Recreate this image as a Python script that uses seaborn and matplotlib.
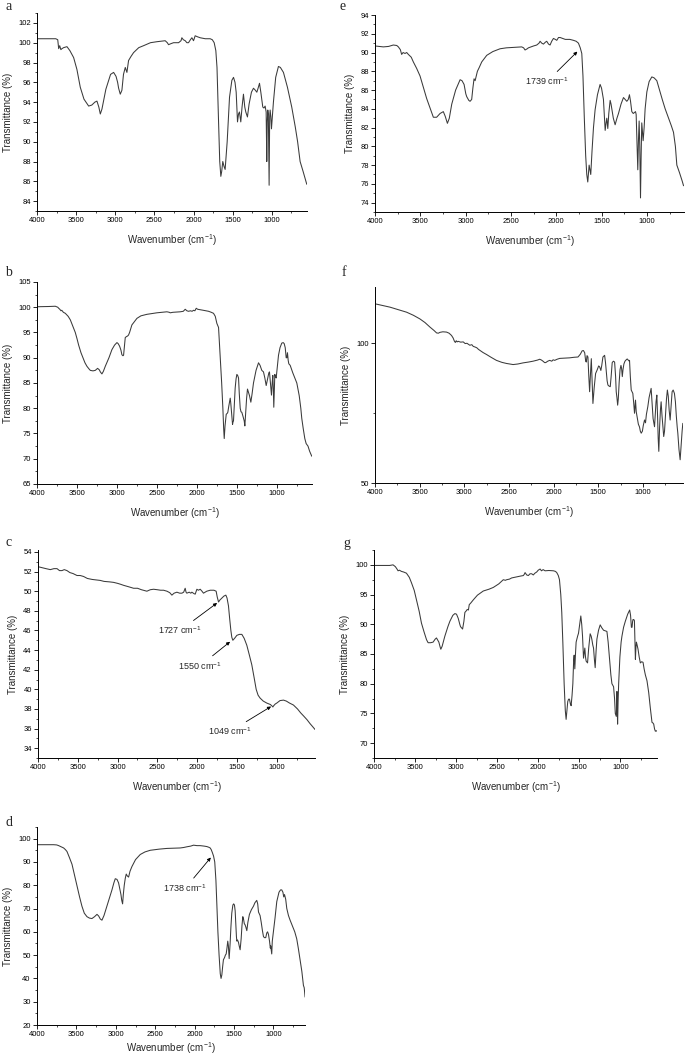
import matplotlib
matplotlib.use("Agg")
import matplotlib.pyplot as plt
from matplotlib.ticker import MultipleLocator
import seaborn as sns
import pandas as pd

# ---------------- data (wavenumber cm-1, transmittance %) ----------------
a_spectrum = [(4000,100.4),(3850,100.4),(3760,100.4),(3735,100.3),(3723,99.4),(3710,99.7),(3695,99.3),(3681,99.4),
 (3660,99.5),(3617,99.6),(3580,99.2),(3532,98.5),(3490,97.3),(3447,95.5),(3400,94.3),(3340,93.6),(3300,93.7),
 (3260,94.0),(3234,94.1),(3210,93.5),(3191,92.8),(3170,93.3),(3120,95.3),(3060,96.8),(3021,97.0),(2990,96.6),
 (2970,96.0),(2957,95.4),(2936,94.8),(2915,95.2),(2895,96.8),(2872,97.5),(2851,97.0),(2830,98.2),(2800,98.6),
 (2766,99.0),(2700,99.5),(2638,99.7),(2550,100.0),(2468,100.1),(2362,100.2),(2335,100.0),(2319,99.8),(2290,99.9),
 (2255,100.0),(2191,100.0),(2160,100.2),(2149,100.5),(2130,100.3),(2106,100.2),(2085,100.0),(2064,100.0),
 (2040,100.3),(2021,100.5),(2000,100.2),(1979,100.7),(1950,100.6),(1915,100.5),(1850,100.4),(1787,100.4),
 (1760,100.3),(1736,100.0),(1715,99.2),(1700,97.5),(1680,92.0),(1665,88.0),(1651,86.5),(1640,87.0),(1626,88.0),
 (1610,87.5),(1596,87.2),(1570,90.0),(1540,94.5),(1510,96.2),(1489,96.5),(1470,96.0),(1455,95.0),(1438,92.0),
 (1425,92.8),(1413,93.0),(1396,92.0),(1380,93.5),(1362,94.8),(1345,93.5),(1332,93.0),(1311,92.5),(1290,93.8),
 (1260,95.0),(1234,95.4),(1210,95.2),(1191,95.0),(1175,95.4),(1157,95.9),(1140,95.0),(1115,93.5),(1100,93.4),
 (1085,93.6),(1072,93.0),(1064,88.0),(1058,92.0),(1051,93.2),(1044,92.8),(1034,85.6),(1027,92.5),(1021,93.2),
 (1012,92.5),(1004,91.3),(995,92.3),(979,94.0),(950,96.5),(915,97.6),(890,97.5),(851,97.0),(800,95.5),
 (745,93.5),(700,91.5),(670,90.0),(638,88.0),(600,87.0),(553,85.7)]

b_spectrum = [(4000,100.1),(3850,100.15),(3771,100.2),(3740,100.0),(3729,99.8),(3715,99.6),(3700,99.3),(3690,99.4),
 (3670,99.0),(3646,98.8),(3610,98.2),(3583,97.5),(3550,96.2),(3521,95.0),(3500,93.8),(3479,92.5),(3450,91.0),
 (3425,90.0),(3400,89.0),(3375,88.3),(3350,87.8),(3333,87.5),(3300,87.4),(3271,87.5),(3242,87.9),(3220,87.6),
 (3208,87.2),(3188,86.8),(3170,87.3),(3146,88.3),(3100,90.0),(3063,91.6),(3030,92.5),(3000,93.0),(2985,92.8),
 (2967,92.3),(2950,91.5),(2938,90.6),(2925,90.4),(2917,90.5),(2905,92.5),(2896,94.0),(2880,94.2),(2867,94.3),
 (2855,94.5),(2842,95.0),(2813,96.5),(2780,97.2),(2750,97.8),(2700,98.3),(2625,98.6),(2500,98.9),(2375,99.1),
 (2345,99.0),(2333,98.9),(2300,99.0),(2250,99.05),(2208,99.1),(2170,99.2),(2146,99.6),(2125,99.3),(2104,99.2),
 (2080,99.3),(2060,99.2),(2042,99.4),(2025,99.3),(2008,99.8),(1990,99.6),(1958,99.5),(1920,99.4),(1854,99.2),
 (1820,99.0),(1792,98.8),(1770,98.2),(1750,96.8),(1729,96.0),(1718,93.0),(1708,90.0),(1690,85.0),(1675,80.0),
 (1665,76.0),(1658,74.0),(1648,76.5),(1633,78.8),(1620,79.0),(1613,79.2),(1600,80.5),(1583,82.0),(1576,81.0),
 (1571,80.0),(1562,78.0),(1554,76.8),(1548,77.3),(1542,77.5),(1530,81.0),(1521,84.0),(1510,85.8),(1500,86.7),
 (1490,86.5),(1479,86.0),(1470,83.0),(1458,80.0),(1448,79.3),(1438,79.2),(1425,78.5),(1408,77.5),(1400,76.5),
 (1390,79.0),(1378,82.0),(1367,83.8),(1355,83.2),(1342,82.5),(1333,81.8),(1325,81.2),(1310,82.8),(1292,85.0),
 (1260,87.5),(1229,89.0),(1210,88.5),(1188,87.5),(1167,87.2),(1150,86.0),(1133,84.5),(1120,85.5),(1100,87.0),
 (1092,87.2),(1080,85.0),(1067,82.6),(1058,85.0),(1050,86.5),(1044,84.0),(1038,80.2),(1031,84.0),(1025,86.7),
 (1015,86.2),(1008,86.0),(995,88.0),(979,90.5),(960,92.0),(938,92.9),(920,93.0),(908,92.8),(895,92.0),
 (883,90.0),(875,90.0),(867,91.0),(858,89.5),(850,88.8),(833,88.5),(800,87.0),(775,86.0),(750,85.0),
 (720,82.5),(700,80.0),(688,78.0),(670,76.0),(650,74.0),(633,73.0),(610,72.5),(590,71.5),(563,70.5)]

c_spectrum = [(4000,52.5),(3950,52.4),(3900,52.3),(3845,52.2),(3800,52.3),(3761,52.3),(3730,52.1),(3699,52.1),
 (3670,52.2),(3636,52.1),(3600,51.9),(3560,51.8),(3510,51.6),(3470,51.6),(3427,51.5),(3380,51.3),(3320,51.2),
 (3270,51.15),(3218,51.1),(3170,51.0),(3100,50.95),(3050,50.9),(3000,50.8),(2960,50.7),(2925,50.6),(2860,50.45),
 (2799,50.3),(2750,50.3),(2700,50.15),(2632,50.0),(2590,50.15),(2548,50.2),(2500,50.15),(2460,50.1),(2423,50.1),
 (2380,50.0),(2345,49.85),(2318,49.6),(2290,49.8),(2255,49.9),(2220,49.8),(2192,49.8),(2170,49.9),(2151,50.3),
 (2140,49.9),(2130,49.8),(2100,49.9),(2080,49.8),(2067,49.9),(2040,49.75),(2025,49.7),(2004,50.2),(1985,50.1),
 (1962,50.2),(1940,50.0),(1921,49.8),(1880,50.0),(1837,50.1),(1790,50.1),(1762,50.0),(1748,49.4),(1732,48.9),
 (1715,49.1),(1690,49.3),(1665,49.5),(1640,49.6),(1625,49.3),(1607,48.5),(1592,47.2),(1577,46.0),(1565,45.3),
 (1552,45.0),(1530,45.2),(1502,45.5),(1470,45.6),(1439,45.6),(1410,45.2),(1377,44.5),(1345,43.5),(1314,42.5),
 (1285,41.2),(1259,40.0),(1235,39.4),(1209,39.1),(1170,38.8),(1126,38.6),(1080,38.45),(1060,38.3),(1049,38.2),
 (1042,38.3),(1020,38.5),(1000,38.6),(960,38.85),(916,38.9),(880,38.8),(840,38.6),(791,38.4),(740,38.0),
 (700,37.6),(665,37.3),(620,36.9),(582,36.5),(550,36.2),(519,35.9)]

d_spectrum = [(4000,97.4),(3900,97.4),(3789,97.4),(3750,97.3),(3725,97.0),(3700,96.6),(3662,96.0),(3640,95.3),
 (3620,94.5),(3590,92.0),(3556,89.0),(3525,84.5),(3493,80.0),(3460,75.0),(3430,71.0),(3400,68.0),(3366,66.5),
 (3335,65.9),(3303,65.7),(3270,66.5),(3239,67.5),(3218,66.8),(3197,65.5),(3176,65.0),(3150,67.0),(3113,71.0),
 (3080,74.5),(3049,78.0),(3025,81.0),(3007,82.8),(2985,82.5),(2965,81.0),(2950,78.5),(2935,76.0),(2925,73.5),
 (2914,72.0),(2905,76.0),(2893,80.0),(2880,83.0),(2868,84.8),(2855,84.0),(2838,83.5),(2820,86.0),(2796,88.0),
 (2750,91.0),(2690,93.2),(2630,94.3),(2564,95.0),(2450,95.5),(2352,95.8),(2250,95.9),(2183,96.0),(2140,96.2),
 (2099,96.5),(2050,96.8),(2014,97.2),(1970,97.0),(1930,97.0),(1880,96.8),(1845,96.6),(1820,96.3),(1803,96.0),
 (1790,95.3),(1775,94.0),(1760,92.5),(1745,90.0),(1730,82.0),(1718,72.0),(1705,60.0),(1690,50.0),(1675,42.0),
 (1665,40.0),(1655,41.5),(1645,45.0),(1635,48.0),(1620,49.0),(1610,50.0),(1600,50.5),(1590,53.0),(1580,56.0),
 (1572,54.0),(1562,48.5),(1550,55.0),(1540,62.0),(1529,68.0),(1515,71.5),(1505,72.0),(1495,71.5),(1486,69.0),
 (1478,63.0),(1470,58.0),(1465,56.0),(1456,56.5),(1444,55.5),(1435,54.0),(1423,52.3),(1410,57.0),(1400,62.5),
 (1389,66.5),(1380,65.5),(1370,63.5),(1360,63.0),(1350,62.0),(1338,60.5),(1325,64.0),(1305,67.5),(1280,69.5),
 (1254,71.0),(1235,72.5),(1212,73.5),(1200,72.0),(1190,68.5),(1170,67.0),(1155,64.0),(1140,60.5),(1127,58.0),
 (1115,57.5),(1098,57.5),(1085,59.5),(1075,60.0),(1064,59.0),(1050,56.0),(1040,53.0),(1035,54.0),(1028,52.0),
 (1022,50.5),(1015,56.0),(1008,58.0),(1000,60.0),(980,66.0),(958,73.0),(930,77.0),(910,78.0),(895,78.0),
 (880,77.0),(870,75.0),(860,76.0),(845,74.0),(831,70.0),(810,67.0),(789,65.0),(760,62.5),(730,60.0),
 (705,57.0),(685,53.0),(662,48.0),(640,43.0),(630,40.0),(620,37.0),(610,36.0),(599,32.0)]

e_spectrum = [(4000,90.7),(3908,90.6),(3850,90.65),(3798,90.8),(3760,90.75),(3742,90.6),(3720,90.3),(3706,89.8),
 (3690,90.0),(3669,89.9),(3650,90.0),(3632,89.8),(3600,89.5),(3577,89.0),(3540,88.3),(3503,87.5),(3470,86.4),
 (3430,85.1),(3390,84.0),(3356,83.1),(3320,83.1),(3282,83.5),(3246,83.7),(3225,83.2),(3201,82.45),(3180,83.0),
 (3153,84.5),(3110,86.0),(3061,87.1),(3040,87.0),(3017,86.6),(2998,85.6),(2988,85.3),(2965,84.9),(2951,84.8),
 (2933,85.0),(2920,86.2),(2907,87.2),(2895,87.0),(2885,87.4),(2870,88.0),(2850,88.4),(2822,89.0),(2767,89.7),
 (2700,90.1),(2620,90.4),(2550,90.5),(2473,90.55),(2381,90.6),(2360,90.5),(2344,90.27),(2320,90.4),(2307,90.5),
 (2250,90.7),(2215,90.8),(2190,91.0),(2178,91.2),(2160,91.0),(2141,90.9),(2120,91.1),(2105,91.2),(2085,90.9),
 (2068,90.8),(2050,91.2),(2031,91.5),(2010,91.4),(1994,91.3),(1975,91.6),(1957,91.6),(1900,91.4),(1850,91.4),
 (1810,91.3),(1780,91.2),(1755,91.0),(1735,90.5),(1718,89.9),(1705,87.5),(1690,83.0),(1675,79.0),(1663,77.0),
 (1652,76.2),(1645,77.0),(1637,78.0),(1628,77.5),(1619,77.0),(1605,79.5),(1589,82.0),(1571,83.9),(1545,85.5),
 (1516,86.6),(1500,86.2),(1479,85.0),(1468,83.0),(1460,81.7),(1450,82.5),(1442,83.0),(1431,81.9),(1420,83.5),
 (1405,84.9),(1395,84.5),(1387,84.0),(1370,83.0),(1350,82.3),(1330,83.0),(1313,83.5),(1285,84.5),(1258,85.2),
 (1240,85.0),(1221,84.8),(1205,85.0),(1192,85.5),(1180,84.8),(1166,83.7),(1150,83.5),(1137,83.6),(1125,83.7),
 (1118,83.4),(1108,80.0),(1100,77.5),(1093,80.5),(1085,82.7),(1078,80.0),(1070,74.5),(1063,79.0),(1056,82.5),
 (1048,81.5),(1041,80.6),(1030,82.0),(1019,84.0),(1000,85.8),(975,86.9),(945,87.4),(920,87.3),(890,87.0),
 (860,86.0),(830,85.0),(798,84.0),(760,83.0),(730,82.2),(706,81.5),(685,80.0),(669,78.0),(640,77.2),
 (610,76.3),(595,75.8)]

f_spectrum = [(4000,114.0),(3900,113.3),(3832,112.8),(3750,112.0),(3646,111.0),(3570,109.9),(3497,108.6),(3440,107.3),
 (3385,105.7),(3340,104.5),(3310,103.6),(3290,103.5),(3273,103.8),(3240,104.0),(3199,103.9),(3170,103.5),
 (3143,102.7),(3125,101.8),(3110,100.6),(3100,100.2),(3090,100.8),(3080,100.4),(3068,100.6),(3040,100.3),
 (3012,100.4),(2990,99.8),(2970,99.9),(2938,99.2),(2915,99.4),(2900,98.8),(2882,98.6),(2860,98.3),(2840,97.7),
 (2826,97.4),(2790,96.6),(2751,95.9),(2700,94.9),(2640,93.8),(2580,93.1),(2528,92.7),(2453,92.3),(2400,92.5),
 (2341,92.9),(2280,93.2),(2230,93.5),(2180,93.9),(2155,94.2),(2135,93.9),(2118,93.5),(2100,93.0),(2088,93.0),
 (2065,93.5),(2043,93.8),(2020,93.5),(2005,94.0),(1987,93.8),(1960,94.2),(1931,94.5),(1880,94.6),(1820,94.7),
 (1770,94.9),(1726,95.0),(1700,96.0),(1680,97.2),(1665,97.3),(1651,96.5),(1640,93.5),(1633,93.2),(1625,95.5),
 (1615,95.0),(1605,88.0),(1596,82.6),(1588,88.0),(1577,94.4),(1568,86.0),(1559,78.4),(1545,84.0),(1529,89.1),
 (1510,90.5),(1495,91.8),(1484,91.5),(1470,90.2),(1460,92.0),(1447,95.0),(1428,95.6),(1418,93.0),(1410,90.0),
 (1400,86.5),(1391,85.0),(1378,84.6),(1365,84.4),(1355,88.0),(1343,93.0),(1330,93.5),(1316,93.2),(1305,88.0),
 (1298,82.6),(1290,80.5),(1282,77.8),(1275,80.0),(1265,86.0),(1255,90.5),(1245,92.0),(1238,91.0),(1230,88.0),
 (1222,90.5),(1212,92.5),(1200,93.5),(1186,94.0),(1175,94.3),(1167,94.0),(1155,93.6),(1149,93.8),(1140,88.0),
 (1130,83.2),(1120,82.5),(1112,82.0),(1102,78.5),(1093,74.9),(1085,78.0),(1082,79.6),(1074,75.5),(1060,73.0),
 (1050,71.0),(1037,70.0),(1028,68.5),(1018,67.8),(1005,68.5),(995,70.5),(981,72.5),(970,71.5),(960,74.5),
 (944,77.3),(930,80.5),(920,82.0),(907,83.8),(895,78.0),(885,73.0),(869,70.1),(860,74.5),(852,79.0),(843,81.4),
 (835,74.0),(828,66.0),(821,61.3),(812,70.0),(803,76.0),(795,79.0),(785,74.0),(775,70.0),(766,66.6),(757,68.5),
 (745,75.0),(735,80.0),(725,83.2),(715,81.0),(705,76.0),(694,72.5),(684,77.0),(672,82.6),(660,83.2),(646,82.0),
 (635,79.0),(625,74.0),(615,70.0),(608,67.8),(595,62.0),(582,58.3),(570,64.0),(560,68.5),(552,71.3)]

g_spectrum = [(4000,99.9),(3900,99.9),(3809,99.9),(3768,100.0),(3740,99.7),(3720,99.3),(3707,99.0),(3690,99.1),
 (3666,98.9),(3640,98.8),(3605,98.6),(3570,97.9),(3544,97.0),(3510,95.7),(3483,94.1),(3450,92.2),(3422,90.2),
 (3390,88.7),(3360,87.4),(3341,86.9),(3310,86.9),(3280,87.0),(3255,87.5),(3239,87.7),(3222,87.3),(3210,87.0),
 (3195,86.2),(3186,85.8),(3170,86.3),(3137,88.0),(3100,89.6),(3076,90.5),(3040,91.5),(3015,91.8),(2995,91.7),
 (2974,91.0),(2955,90.0),(2946,89.6),(2921,89.2),(2905,90.5),(2893,92.0),(2880,92.2),(2864,92.5),(2850,92.4),
 (2840,93.3),(2820,93.6),(2791,94.1),(2740,94.9),(2669,95.6),(2600,95.9),(2547,96.2),(2480,96.8),(2425,97.5),
 (2400,97.4),(2384,97.5),(2350,97.6),(2323,97.8),(2290,97.9),(2262,98.0),(2220,98.1),(2181,98.2),(2170,98.4),
 (2160,98.7),(2140,98.3),(2120,98.2),(2100,98.5),(2079,98.5),(2060,98.3),(2040,98.6),(2018,98.8),(2000,99.1),
 (1977,99.3),(1960,99.0),(1940,99.2),(1916,99.0),(1870,99.05),(1814,99.0),(1790,98.9),(1774,98.7),(1755,98.2),
 (1741,97.5),(1725,95.0),(1713,92.0),(1700,87.0),(1684,80.0),(1670,75.5),(1660,74.0),(1650,75.5),(1640,77.0),
 (1630,77.4),(1619,77.4),(1608,76.6),(1599,76.3),(1588,78.0),(1578,80.0),(1568,84.0),(1562,84.8),(1554,82.5),
 (1546,85.0),(1538,87.0),(1520,88.0),(1509,88.5),(1495,90.0),(1481,91.4),(1470,90.0),(1460,88.0),(1448,84.3),
 (1440,85.2),(1432,86.0),(1424,84.5),(1416,83.8),(1399,83.5),(1385,86.0),(1367,88.4),(1355,88.0),(1347,87.5),
 (1335,86.5),(1326,86.0),(1315,84.0),(1306,82.7),(1295,85.5),(1285,87.5),(1265,89.0),(1245,89.9),(1225,89.4),
 (1204,89.0),(1185,88.9),(1163,88.8),(1148,87.0),(1130,84.0),(1115,81.5),(1102,80.0),(1082,79.5),(1070,77.5),
 (1061,75.0),(1049,74.5),(1045,76.0),(1041,78.7),(1037,76.0),(1033,73.2),(1027,77.0),(1020,80.0),(1005,84.5),
 (990,87.0),(980,88.0),(960,89.5),(939,90.5),(910,91.7),(886,92.4),(875,91.5),(865,89.5),(857,89.5),(850,90.5),
 (845,90.8),(836,90.8),(828,90.6),(822,87.0),(816,84.1),(810,86.0),(804,87.0),(795,86.5),(784,85.8),(770,84.5),
 (756,83.5),(740,83.7),(723,83.6),(710,82.5),(695,81.5),(675,80.5),(654,78.5),(635,76.0),(614,73.5),(603,73.4),
 (593,73.2),(583,72.4),(573,72.0),(563,72.1),(553,72.0)]

x_ticks = [4000, 3500, 3000, 2500, 2000, 1500, 1000]

# annotations: (label, tip wavenumber, tip T, text wavenumber, text T)
c_notes = [("1727 cm$^{-1}$", 1750, 48.8, 2215, 46.0),
           ("1550 cm$^{-1}$", 1587, 44.85, 1963, 42.4),
           ("1049 cm$^{-1}$", 1072, 38.25, 1587, 35.7)]
d_notes = [("1738 cm$^{-1}$", 1795, 91.9, 2120, 78.7)]
e_notes = [("1739 cm$^{-1}$", 1767, 90.1, 2102, 86.9)]

# ---------------- style ----------------
sns.set_style("ticks")
plt.rcParams["font.family"] = ["Liberation Sans", "DejaVu Sans"]
plt.rcParams["mathtext.default"] = "regular"
plt.rcParams["axes.linewidth"] = 0.7

W, H = 685, 1058
fig = plt.figure(figsize=(W / 100, H / 100), dpi=100)
fig.patch.set_facecolor("white")

# panel: letter, data, px box (left, right, top, bottom), xlim right, ylim, ymajor, yminor,
#        letter pos, notes, xlabel pad
panels = [
    ("a", a_spectrum, (37, 307, 13, 211), 550, (83, 103), 2, 1, (5, 6), [], 6),
    ("b", b_spectrum, (37, 312, 282, 484), 560, (65, 105), 5, 2.5, (5, 273), [], 6),
    ("c", c_spectrum, (38, 315, 550, 758), 520, (33, 54.2), 2, 1, (5, 543), c_notes, 6),
    ("d", d_spectrum, (37, 305, 827, 1025), 600, (20, 105), 10, 5, (5, 822), d_notes, 1.5),
    ("e", e_spectrum, (375, 684, 15, 212), 590, (73, 94), 2, 1, (340, 6), e_notes, 6),
    ("f", f_spectrum, (375, 683, 287, 483), 550, (50, 120), 50, 25, (342, 273), [], 6),
    ("g", g_spectrum, (374, 657, 550, 758), 553, (67.5, 102.5), 5, 2.5, (343, 543), [], 6),
]

for letter, spec, (l, r, t, b), xr, ylim, ymaj, ymin, (lx, ly), notes, xpad in panels:
    ax = fig.add_axes([l / W, 1 - b / H, (r - l) / W, (b - t) / H])
    df = pd.DataFrame(spec, columns=["wavenumber", "T"])
    sns.lineplot(data=df, x="wavenumber", y="T", ax=ax, sort=False, estimator=None,
                 color="#3a3a3a", linewidth=0.75)
    ax.set_xticks(x_ticks)
    ax.xaxis.set_minor_locator(MultipleLocator(250))
    ax.yaxis.set_major_locator(MultipleLocator(ymaj))
    ax.yaxis.set_minor_locator(MultipleLocator(ymin))
    ax.set_ylim(*ylim)
    ax.set_xlim(4000, xr)
    for s in ["top", "right"]:
        ax.spines[s].set_visible(False)
    for s in ["left", "bottom"]:
        ax.spines[s].set_color("black")
        ax.spines[s].set_linewidth(0.7)
    ax.tick_params(axis="both", which="major", direction="out", length=3, width=0.6,
                   labelsize=5.5, pad=1.5, colors="black")
    ax.tick_params(axis="both", which="minor", direction="out", length=1.6, width=0.5, colors="black")
    ax.set_xlabel("Wavenumber (cm$^{-1}$)", fontsize=7, labelpad=xpad)
    ax.set_ylabel("Transmittance (%)", fontsize=7, labelpad=4)
    ax.set_facecolor("white")
    for text, tx, ty, px, py in notes:
        ax.annotate(text, xy=(tx, ty), xytext=(px, py), fontsize=6.5, ha="center", va="center",
                    arrowprops=dict(arrowstyle="-|>", color="black", lw=0.6, mutation_scale=5,
                                    shrinkA=1, shrinkB=0))
    fig.text(lx / W, 1 - ly / H, letter, fontsize=10, family=["Liberation Serif", "DejaVu Serif"],
             ha="left", va="center")

fig.savefig("out.png", dpi=100, facecolor="white")
